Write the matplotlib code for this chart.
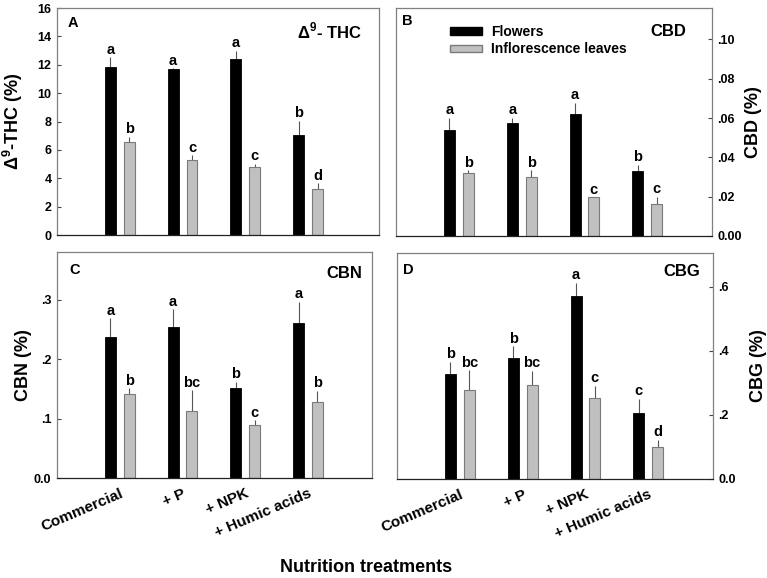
import numpy as np
import matplotlib
matplotlib.use("Agg")
import matplotlib.pyplot as plt
from matplotlib.patches import Patch
from matplotlib.ticker import FuncFormatter

plt.rcParams['font.family'] = ['Liberation Sans', 'DejaVu Sans']
plt.rcParams['font.weight'] = 'bold'
plt.rcParams['mathtext.fontset'] = 'custom'
plt.rcParams['mathtext.rm'] = 'Liberation Sans:bold'
plt.rcParams['mathtext.bf'] = 'Liberation Sans:bold'

treatments = ['Commercial', '+ P', '+ NPK', '+ Humic acids']

# values (mean, upper error)
thc_flowers = [11.81, 11.67, 12.40, 7.08]
thc_flowers_err = [0.73, 0.10, 0.60, 0.97]
thc_leaves = [6.54, 5.32, 4.82, 3.22]
thc_leaves_err = [0.40, 0.30, 0.22, 0.42]
thc_let_fl = ['a', 'a', 'a', 'b']
thc_let_lv = ['b', 'c', 'c', 'd']

cbd_flowers = [0.0541, 0.0577, 0.0622, 0.0333]
cbd_flowers_err = [0.0060, 0.0024, 0.0055, 0.0030]
cbd_leaves = [0.0320, 0.0299, 0.0197, 0.0162]
cbd_leaves_err = [0.0015, 0.0036, 0.0, 0.0037]
cbd_let_fl = ['a', 'a', 'a', 'b']
cbd_let_lv = ['b', 'b', 'c', 'c']

cbn_flowers = [0.2365, 0.2532, 0.1511, 0.2610]
cbn_flowers_err = [0.032, 0.031, 0.011, 0.035]
cbn_leaves = [0.1410, 0.1132, 0.0892, 0.1272]
cbn_leaves_err = [0.010, 0.034, 0.008, 0.0195]
cbn_let_fl = ['a', 'a', 'b', 'a']
cbn_let_lv = ['b', 'bc', 'c', 'b']

cbg_flowers = [0.329, 0.379, 0.571, 0.2077]
cbg_flowers_err = [0.037, 0.036, 0.042, 0.043]
cbg_leaves = [0.2773, 0.2928, 0.2523, 0.0997]
cbg_leaves_err = [0.063, 0.046, 0.039, 0.023]
cbg_let_fl = ['b', 'b', 'a', 'c']
cbg_let_lv = ['bc', 'bc', 'c', 'd']

BLACK = '#000000'
GREY = '#c0c0c0'
GREY_EDGE = '#7a7a7a'
SPINE = '#808080'

fig = plt.figure(figsize=(7.67, 5.78), dpi=100)
axA = fig.add_axes([0.0743, 0.5934, 0.4200, 0.3927])
axB = fig.add_axes([0.5163, 0.5917, 0.4120, 0.3945])
axC = fig.add_axes([0.0743, 0.1730, 0.4107, 0.3910])
axD = fig.add_axes([0.5176, 0.1713, 0.4120, 0.3910])

x = np.arange(1, 5)
off = 0.15
w = 0.175


def draw(ax, fl, fl_err, lv, lv_err, let_fl, let_lv):
    ax.bar(x - off, fl, w, color=BLACK, edgecolor=BLACK, linewidth=0.6, zorder=2)
    ax.bar(x + off, lv, w, color=GREY, edgecolor=GREY_EDGE, linewidth=0.8, zorder=2)
    ax.errorbar(x - off, fl, yerr=[np.zeros(4), fl_err], fmt='none',
                ecolor='#555555', elinewidth=0.8, capsize=0, zorder=1)
    ax.errorbar(x + off, lv, yerr=[np.zeros(4), lv_err], fmt='none',
                ecolor='#555555', elinewidth=0.8, capsize=0, zorder=1)
    for i in range(4):
        ax.annotate(let_fl[i], (x[i] - off, fl[i] + fl_err[i]), xytext=(0, 2.5),
                    textcoords='offset points', ha='center', va='baseline',
                    fontsize=10.5, fontweight='bold')
        ax.annotate(let_lv[i], (x[i] + off, lv[i] + lv_err[i]), xytext=(0, 2.5),
                    textcoords='offset points', ha='center', va='baseline',
                    fontsize=10.5, fontweight='bold')
    for s in ax.spines.values():
        s.set_color(SPINE)
        s.set_linewidth(0.9)
    ax.spines['bottom'].set_color('#222222')
    ax.tick_params(axis='x', length=0)
    ax.tick_params(axis='y', direction='in', length=3, width=0.8, color='#444444',
                   labelsize=9, pad=4)
    for lab in ax.get_yticklabels():
        lab.set_fontweight('bold')


draw(axA, thc_flowers, thc_flowers_err, thc_leaves, thc_leaves_err, thc_let_fl, thc_let_lv)
draw(axB, cbd_flowers, cbd_flowers_err, cbd_leaves, cbd_leaves_err, cbd_let_fl, cbd_let_lv)
draw(axC, cbn_flowers, cbn_flowers_err, cbn_leaves, cbn_leaves_err, cbn_let_fl, cbn_let_lv)
draw(axD, cbg_flowers, cbg_flowers_err, cbg_leaves, cbg_leaves_err, cbg_let_fl, cbg_let_lv)

# A
axA.set_xlim(0, 5.13)
axA.set_ylim(0, 16)
axA.set_yticks(np.arange(0, 17, 2))
axA.set_xticks([])
axA.set_ylabel('Δ$^{9}$-THC (%)', fontsize=13, fontweight='bold')
axA.yaxis.set_label_coords(-0.10, 0.5)
axA.text(0.034, 0.934, 'A', transform=axA.transAxes, fontsize=10.5,
         fontweight='bold', va='center', ha='left')
axA.text(0.947, 0.90, 'Δ$^{9}$- THC', transform=axA.transAxes, fontsize=12,
         fontweight='bold', va='center', ha='right')

# B
axB.set_xlim(0, 5.03)
axB.set_ylim(0, 0.116)
axB.set_yticks(np.arange(0, 0.101, 0.02))
axB.set_xticks([])
axB.yaxis.tick_right()
axB.yaxis.set_label_position('right')
axB.yaxis.set_major_formatter(FuncFormatter(
    lambda v, p: '0.00' if abs(v) < 1e-9 else ('%.2f' % v)[1:]))
axB.set_ylabel('CBD (%)', fontsize=13, fontweight='bold')
axB.yaxis.set_label_coords(1.104, 0.5)
axB.text(0.02, 0.945, 'B', transform=axB.transAxes, fontsize=10.5,
         fontweight='bold', va='center', ha='left')
axB.text(0.92, 0.895, 'CBD', transform=axB.transAxes, fontsize=12,
         fontweight='bold', va='center', ha='right')
handles = [Patch(facecolor=BLACK, edgecolor=BLACK, label='Flowers'),
           Patch(facecolor=GREY, edgecolor=GREY_EDGE, label='Inflorescence leaves')]
axB.legend(handles=handles, loc='upper left', bbox_to_anchor=(0.145, 0.962),
           frameon=False, prop={'size': 10, 'weight': 'bold'},
           handlelength=2.3, handleheight=0.5, handletextpad=0.65,
           labelspacing=0.25, borderaxespad=0.2)

# C
axC.set_xlim(0, 5.02)
axC.set_ylim(0, 0.38)
axC.set_yticks([0, 0.1, 0.2, 0.3])
axC.yaxis.set_major_formatter(FuncFormatter(
    lambda v, p: '0.0' if abs(v) < 1e-9 else ('%.1f' % v)[1:]))
axC.set_ylabel('CBN (%)', fontsize=13, fontweight='bold')
axC.yaxis.set_label_coords(-0.078, 0.5)
axC.text(0.04, 0.92, 'C', transform=axC.transAxes, fontsize=10.5,
         fontweight='bold', va='center', ha='left')
axC.text(0.968, 0.907, 'CBN', transform=axC.transAxes, fontsize=12,
         fontweight='bold', va='center', ha='right')

# D
axD.set_xlim(0, 5.03)
axD.set_ylim(0, 0.706)
axD.set_yticks([0, 0.2, 0.4, 0.6])
axD.yaxis.tick_right()
axD.yaxis.set_label_position('right')
axD.yaxis.set_major_formatter(FuncFormatter(
    lambda v, p: '0.0' if abs(v) < 1e-9 else ('%.1f' % v)[1:]))
axD.set_ylabel('CBG (%)', fontsize=13, fontweight='bold')
axD.yaxis.set_label_coords(1.117, 0.5)
axD.text(0.02, 0.925, 'D', transform=axD.transAxes, fontsize=10.5,
         fontweight='bold', va='center', ha='left')
axD.text(0.96, 0.916, 'CBG', transform=axD.transAxes, fontsize=12,
         fontweight='bold', va='center', ha='right')

for ax in (axC, axD):
    ax.set_xticks(x)
    ax.set_xticklabels(treatments, rotation=23, ha='right', va='top',
                       rotation_mode='anchor', fontsize=11, fontweight='bold')
    ax.tick_params(axis='x', pad=6)

fig.text(0.477, 0.004, 'Nutrition treatments', ha='center', va='bottom',
         fontsize=13, fontweight='bold')

fig.savefig('out.png', dpi=100)
